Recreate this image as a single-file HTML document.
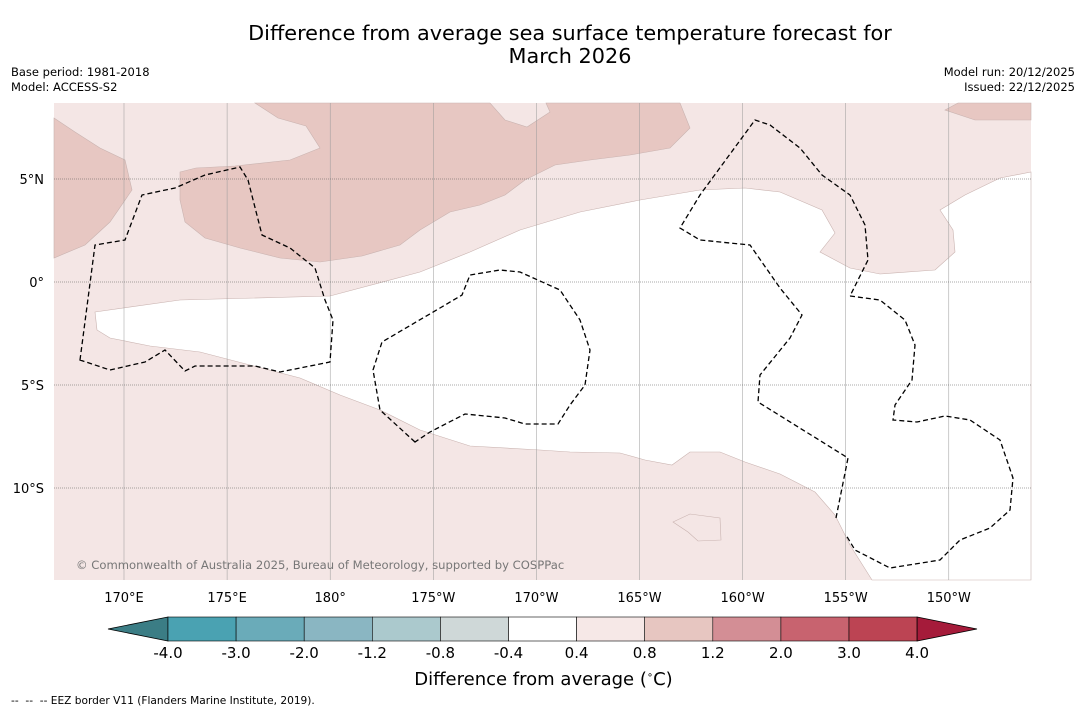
<!DOCTYPE html>
<html><head><meta charset="utf-8"><style>
body{margin:0;background:#fff;font-family:"DejaVu Sans","Liberation Sans",sans-serif;}
#wrap{position:relative;width:1085px;height:713px;overflow:hidden;background:#fff}
.t{position:absolute;white-space:nowrap}
svg text{font-family:"DejaVu Sans","Liberation Sans",sans-serif}
</style></head><body>
<div id="wrap">
<div class="t" style="left:0;width:1140px;top:22px;text-align:center;font-size:20.8px;line-height:23px;color:#000">Difference from average sea surface temperature forecast for<br>March 2026</div>
<div class="t" style="left:11px;top:65px;font-size:11.5px;line-height:15px">Base period: 1981-2018<br>Model: ACCESS-S2</div>
<div class="t" style="right:10px;top:65px;font-size:11.5px;line-height:15px;text-align:right">Model run: 20/12/2025<br>Issued: 22/12/2025</div>
<svg id="map" width="1085" height="713" style="position:absolute;left:0;top:0">
<g id="regions"></g>
<g id="grid"></g>
<g id="eez"></g>
<g id="cbar"></g>
</svg>
<div class="t" style="left:76px;top:558px;font-size:11.6px;color:#777">© Commonwealth of Australia 2025, Bureau of Meteorology, supported by COSPPac</div>
<div class="t" style="left:0;width:1087px;top:669px;text-align:center;font-size:18px">Difference from average (<sup style="font-size:10px">∘</sup>C)</div>
<div class="t" style="left:11px;top:695px;font-size:10.6px">-- &nbsp;-- &nbsp;-- EEZ border V11 (Flanders Marine Institute, 2019).</div>
</div>
<script>
const lonTicks=["170°E","175°E","180°","175°W","170°W","165°W","160°W","155°W","150°W"];
const latTicks=["5°N","0°","5°S","10°S"];
const cbarTicks=["-4.0","-3.0","-2.0","-1.2","-0.8","-0.4","0.4","0.8","1.2","2.0","3.0","4.0"];
const cbarColors=["#4aa2b2","#6aabb9","#8ab6c2","#abc9cd","#cfd8d8","#ffffff","#f6e8e7","#e7c6c1","#d38e95","#c8636f","#bc4453"];
const NS="http://www.w3.org/2000/svg";
const X0=54,X1=1031,Y0=103,Y1=580;
const lonX=i=>124+i*103.1, latY=i=>179+i*103;
function el(tag,attrs,parent){const e=document.createElementNS(NS,tag);for(const k in attrs)e.setAttribute(k,attrs[k]);parent.appendChild(e);return e;}
const R=document.getElementById('regions');
let r=el('rect',{x:X0,y:Y0,width:X1-X0,height:Y1-Y0,fill:'#f4e6e5'},R);


const dark="#e7c7c2";
const shapes=[
["white-region","#fff","M95,312 L180,300 L330,296 L420,272 L470,252 L520,230 L580,212 L640,200 L700,190 L745,188 L780,192 L822,210 L835,233 L820,252 L850,268 L880,274 L935,270 L955,252 L953,230 L940,210 L965,195 L1000,178 L1031,172 L1031,580 L872,580 L850,545 L835,515 L815,492 L780,474 L745,462 L720,452 L690,452 L672,465 L645,460 L620,453 L570,452 L540,450 L470,446 L420,430 L380,410 L340,395 L300,378 L250,365 L200,352 L150,346 L110,338 L97,330 Z"],
["pink-island","#f4e6e5","M673,522 L690,514 L720,518 L721,540 L698,541 L688,532 Z"],
["warm-region-west",dark,"M54,118 L75,132 L100,148 L125,160 L132,190 L110,222 L85,245 L54,258 Z"],
["warm-region-central",dark,"M180,172 L196,168 L235,166 L290,160 L320,148 L306,126 L278,118 L255,103 L490,103 L505,120 L527,127 L550,112 L546,103 L680,103 L690,128 L670,148 L630,155 L590,160 L555,165 L525,180 L505,195 L480,205 L450,212 L420,230 L400,245 L362,256 L320,262 L280,258 L240,248 L205,238 L185,222 L180,200 Z"],
["warm-region-northeast",dark,"M945,110 L958,103 L1031,103 L1031,120 L975,120 Z"]
];
shapes.forEach(s=>{const p=el('path',{d:s[2],fill:s[1],stroke:'#c9b3b0','stroke-width':0.6},R);

});
const G=document.getElementById('grid');
lonTicks.forEach((t,i)=>{const x=lonX(i);
el('line',{x1:x,y1:Y0,x2:x,y2:Y1,stroke:'#999','stroke-width':0.5},G);
const tx=el('text',{x:x,y:602,'text-anchor':'middle','font-size':13,fill:'#000'},G);tx.textContent=t;

});
latTicks.forEach((t,i)=>{const y=latY(i);
el('line',{x1:X0,y1:y,x2:X1,y2:y,stroke:'#555','stroke-width':0.6,'stroke-dasharray':'1,1'},G);
const tx=el('text',{x:44,y:y+5,'text-anchor':'end','font-size':13,fill:'#000'},G);tx.textContent=t;

});
const E=document.getElementById('eez');
const eez=[
"M80,360 L95,245 L125,240 L142,195 L175,188 L205,175 L240,167 L248,180 L262,235 L290,248 L315,268 L325,300 L333,320 L330,362 L280,372 L255,366 L195,366 L185,371 L165,350 L145,362 L110,370 Z",
"M415,442 L380,410 L373,370 L382,342 L440,308 L462,295 L470,275 L500,270 L520,272 L560,290 L580,320 L590,350 L585,385 L570,405 L558,424 L525,424 L505,418 L465,414 L430,432 Z",
"M836,518 L848,458 L758,402 L760,375 L790,338 L802,315 L780,288 L750,245 L700,240 L680,228 L700,195 L755,120 L770,125 L800,148 L822,175 L850,195 L865,225 L868,260 L850,296",
"M850,296 L880,300 L905,320 L915,345 L912,380 L895,405 L893,420 L917,422 L945,416 L970,420 L1000,440 L1013,478 L1010,510 L990,528 L960,540 L940,560 L890,568 L855,550 L846,535"
];
eez.forEach(d=>{const p=el('path',{d:d,fill:'none',stroke:'#000','stroke-width':1.3,'stroke-dasharray':'5,3'},E);

});
const C=document.getElementById('cbar');
const cb0=168,cbw=68.1,cy=617,ch=24;
let tri=el('path',{d:`M${cb0},${cy} L108,${cy+ch/2} L${cb0},${cy+ch} Z`,fill:'#3b7d85',stroke:'#000','stroke-width':0.8},C);


cbarColors.forEach((c,i)=>{const b=el('rect',{x:cb0+i*cbw,y:cy,width:cbw,height:ch,fill:c,stroke:'#000','stroke-width':0.6},C);

});
const ce=cb0+cbarColors.length*cbw;
tri=el('path',{d:`M${ce},${cy} L977,${cy+ch/2} L${ce},${cy+ch} Z`,fill:'#a51b3a',stroke:'#000','stroke-width':0.8},C);


cbarTicks.forEach((t,i)=>{const tx=el('text',{x:cb0+i*cbw,y:658,'text-anchor':'middle','font-size':15,fill:'#000'},C);tx.textContent=t;

});
</script>
</body></html>
